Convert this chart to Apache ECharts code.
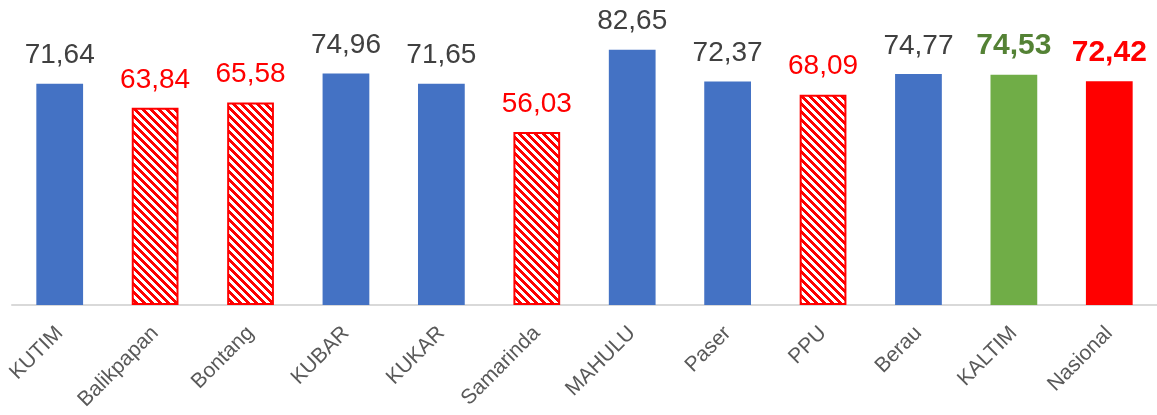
<!DOCTYPE html>
<html>
<head>
<meta charset="utf-8">
<script src="https://cdn.jsdelivr.net/npm/echarts@6/dist/echarts.min.js"></script>
<style>
  html, body { margin: 0; padding: 0; background: #fff; }
  #chart { width: 1157px; height: 415px; }
</style>
</head>
<body>
<div id="chart"></div>
<script>
const categories = ["KUTIM", "Balikpapan", "Bontang", "KUBAR", "KUKAR", "Samarinda", "MAHULU", "Paser", "PPU", "Berau", "KALTIM", "Nasional"];
const values = [71.64, 63.84, 65.58, 74.96, 71.65, 56.03, 82.65, 72.37, 68.09, 74.77, 74.53, 72.42];
// bar style per category: plain blue, hatched red, province green, national red
const kinds = ["blue", "hatch", "hatch", "blue", "blue", "hatch", "blue", "blue", "hatch", "blue", "prov", "nat"];

function hatchTile() {
  const n = 8;
  const cv = document.createElement("canvas");
  cv.width = n;
  cv.height = n;
  const ctx = cv.getContext("2d");
  ctx.fillStyle = "#ffffff";
  ctx.fillRect(0, 0, n, n);
  ctx.fillStyle = "#ff0000";
  for (let x = 0; x < n; x++) {
    for (let y = 0; y < n; y++) {
      if ((((x - y) % n) + n) % n < 4) ctx.fillRect(x, y, 1, 1);
    }
  }
  return cv;
}

const pattern = { image: hatchTile(), repeat: "repeat" };

function styleFor(kind) {
  if (kind === "hatch") {
    return {
      item: { color: pattern, borderColor: "#ff0000", borderWidth: 2 },
      label: { color: "#ff0000", fontSize: 28, fontWeight: "normal" },
    };
  }
  if (kind === "prov") {
    return {
      item: { color: "#70ad47" },
      label: { color: "#548235", fontSize: 30, fontWeight: "bold" },
    };
  }
  if (kind === "nat") {
    return {
      item: { color: "#ff0000" },
      label: { color: "#ff0000", fontSize: 30, fontWeight: "bold" },
    };
  }
  return {
    item: { color: "#4472c4" },
    label: { color: "#404040", fontSize: 28, fontWeight: "normal" },
  };
}

const chart = echarts.init(document.getElementById("chart"), null, { renderer: "canvas" });

chart.setOption({
  animation: false,
  backgroundColor: "#ffffff",
  grid: { left: 12, right: 0, top: 27, bottom: 110, containLabel: false },
  xAxis: {
    type: "category",
    data: categories,
    axisLine: { lineStyle: { color: "#d9d9d9", width: 2 } },
    axisTick: { show: false },
    axisLabel: {
      rotate: 45,
      margin: 25,
      color: "#595959",
      fontSize: 21,
      fontFamily: "Liberation Sans, Arial, sans-serif",
      interval: 0,
    },
  },
  yAxis: {
    type: "value",
    min: 0,
    max: 90,
    show: false,
    splitLine: { show: false },
  },
  series: [
    {
      type: "bar",
      barWidth: "49%",
      data: values.map((v, i) => {
        const s = styleFor(kinds[i]);
        return {
          value: v,
          itemStyle: s.item,
          label: {
            show: true,
            position: "top",
            distance: 14,
            fontFamily: "Liberation Sans, Arial, sans-serif",
            formatter: () => v.toFixed(2).replace(".", ","),
            ...s.label,
          },
        };
      }),
    },
  ],
});
</script>
</body>
</html>
